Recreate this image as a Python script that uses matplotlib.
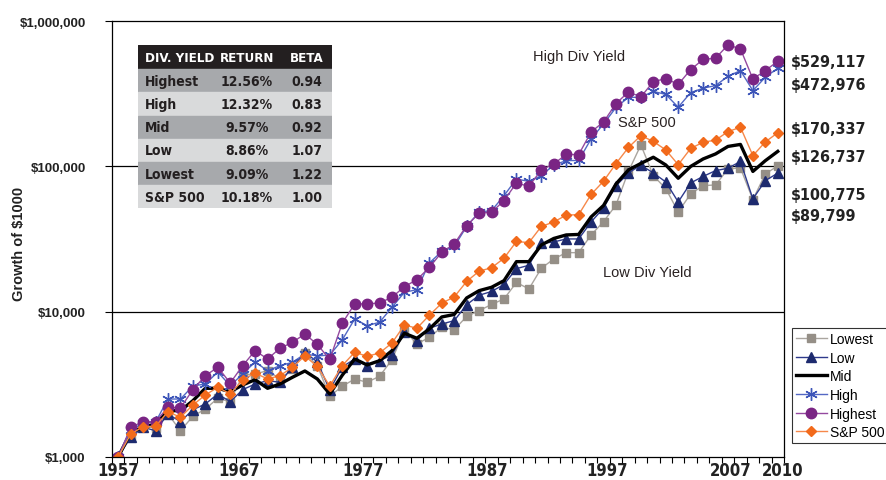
import numpy as np
import matplotlib
matplotlib.use("Agg")
import matplotlib.pyplot as plt
from matplotlib import font_manager
from matplotlib.patches import Rectangle

plt.rcParams['font.family'] = ['Liberation Sans', 'DejaVu Sans']

# look for a narrow / condensed bold face; fall back to Liberation Sans bold
def narrow_font():
    best = None
    for f in font_manager.fontManager.ttflist:
        nm = f.name.lower()
        fn = f.fname.lower()
        cond = (str(f.stretch) in ('condensed', 'semi-condensed', 'extra-condensed', 'ultra-condensed')
                or 'condensed' in fn or 'narrow' in fn)
        w = f.weight if isinstance(f.weight, int) else (700 if 'bold' in str(f.weight) else 400)
        if cond and w >= 600 and 'oblique' not in fn and 'italic' not in fn:
            if best is None or 'liberation' in nm:
                best = f.fname
    return best

NARROW_PATH = narrow_font()


def nf(size):
    if NARROW_PATH:
        return dict(fontproperties=font_manager.FontProperties(fname=NARROW_PATH, size=size))
    return dict(fontproperties=font_manager.FontProperties(family='Liberation Sans',
                                                           weight='bold', size=size * 0.85))

"""
    Data (growth of $1000, read off the picture)
"""
years = list(range(1957, 2011))

lowest = [1000, 1402, 1642, 1576, 1976, 1517, 1906, 2139, 2535, 2401,
          3667, 3726, 3926, 3442, 4033, 5196, 4250, 2617, 3066, 3442,
          3268, 3593, 4673, 7400, 5993, 6665, 7810, 7518, 9268, 10160,
          11210, 12230, 15890, 14330, 19900, 23050, 25470, 25470, 33730, 41630,
          54240, 92240, 140400, 86300, 70230, 48560, 64570, 73650, 74470, 95960,
          97500, 58990, 88660, 100775]
low = [1000, 1366, 1601, 1517, 1976, 1750, 2116, 2316, 2714, 2401,
       2906, 3180, 3351, 3268, 4143, 5254, 4506, 2892, 4164, 4726,
       4250, 4600, 5035, 7215, 6315, 7686, 8229, 8673, 11160, 12970,
       13770, 15390, 19770, 20860, 29470, 30180, 31650, 31650, 41420, 51720,
       73300, 90080, 101800, 90080, 78090, 56890, 76870, 85210, 93420, 97030,
       108100, 59650, 79720, 89799]
mid = [1000, 1479, 1601, 1687, 2083, 2083, 2440, 2970, 2970, 2814,
       3130, 3404, 2970, 3180, 3536, 3907, 3442, 2714, 3650, 4726,
       4297, 4600, 5391, 7101, 6560, 7602, 9195, 9566, 12430, 13950,
       14720, 16350, 22090, 22090, 28770, 31900, 33730, 33990, 44860, 53810,
       75660, 94460, 104700, 115500, 102200, 82800, 99840, 112400, 121700, 137100,
       141500, 92240, 109400, 126737]
high = [1000, 1534, 1714, 1741, 2506, 2506, 3081, 3180, 3846, 3095,
        3726, 4506, 3926, 4250, 4485, 5116, 4956, 5035, 6387, 8907,
        8012, 8456, 10720, 13600, 14170, 21640, 25960, 28100, 38590, 48560,
        49560, 62850, 81890, 78710, 86300, 102200, 109400, 109800, 154400, 195800,
        254300, 298100, 299000, 327700, 312500, 255100, 321600, 344800, 359300, 416900,
        455700, 331900, 410400, 472976]
highest = [1000, 1601, 1750, 1750, 2198, 2174, 2906, 3627, 4143, 3231,
           4250, 5391, 4726, 5600, 6157, 7023, 5946, 4688, 8322, 11300,
           11300, 11480, 12570, 14860, 16610, 20150, 25630, 29240, 39070, 47570,
           48330, 58070, 76870, 72730, 94460, 103900, 120800, 120400, 172500, 202100,
           270100, 325100, 300400, 382700, 401400, 366200, 463000, 544100, 554600, 684600,
           642700, 399500, 455700, 529117]
sp500 = [1000, 1439, 1616, 1627, 2050, 1876, 2279, 2671, 3018, 2714,
         3388, 3785, 3442, 3627, 4143, 4956, 4196, 3081, 4250, 5254,
         4932, 5196, 6089, 8098, 7686, 9445, 11440, 12630, 16140, 19000,
         20050, 23310, 30420, 29850, 38590, 41420, 46150, 46520, 64080, 79080,
         104400, 134900, 162700, 148400, 129700, 102600, 132800, 146500, 151500, 173300,
         185800, 118500, 147200, 170337]

table_rows = ["Highest", "High", "Mid", "Low", "Lowest", "S&P 500"]
table_return = ["12.56%", "12.32%", "9.57%", "8.86%", "9.09%", "10.18%"]
table_beta = ["0.94", "0.83", "0.92", "1.07", "1.22", "1.00"]

tick_years = [1957, 1967, 1977, 1987, 1997, 2007, 2010]
tick_pos = [0, 9.7, 19.7, 29.6, 39.3, 49.2, 53.4]

"""
    Chart
"""
fig = plt.figure(figsize=(8.86, 4.81), dpi=100)
ax = fig.add_axes([112/886, 1-458/481, 672/886, 436/481])

x = np.arange(len(years))
series = [
    ("Lowest", lowest, dict(color='#aaa59f', marker='s', ms=6, mfc='#958f87', mec='#958f87', lw=1.0)),
    ("Low", low, dict(color='#2e3a8c', marker='^', ms=7, mfc='#1d2a6e', mec='#1d2a6e', lw=1.0)),
    ("Mid", mid, dict(color='black', lw=2.4)),
    ("High", high, dict(color='#5468c4', marker=(6, 2, 0), ms=9, mec='#3c54b8', mew=1.0, lw=1.0)),
    ("Highest", highest, dict(color='#94499f', marker='o', ms=7.5, mfc='#7a2584', mec='#7a2584', lw=1.0)),
    ("S&P 500", sp500, dict(color='#f6884a', marker='D', ms=5.5, mfc='#f26a1b', mec='#f26a1b', lw=1.0)),
]
for name, vals, style in series:
    ax.plot(x, vals, label=name, **style)

ax.set_yscale('log')
ax.set_ylim(1000, 1000000)
ax.set_xlim(-0.5, len(years) - 0.5)
ax.set_yticks([1000, 10000, 100000, 1000000])
ax.set_yticklabels(["$1,000", "$10,000", "$100,000", "$1,000,000"],
                   fontweight='bold', fontsize=9.5, color='#222222')
ax.yaxis.set_minor_locator(matplotlib.ticker.NullLocator())
ax.tick_params(axis='y', which='major', direction='out', length=5, pad=14, width=0.8)
for yv in [10000, 100000]:
    ax.axhline(yv, color='black', lw=0.9, zorder=0)

ax.set_xticks(tick_pos)
ax.set_xticklabels([str(t) for t in tick_years], color='#222222', **nf(12))
ax.set_xticks(np.arange(-0.5, len(years), 1), minor=True)
ax.tick_params(axis='x', which='major', length=0, pad=3)
ax.tick_params(axis='x', which='minor', direction='out', length=4, width=0.8)

for s in ax.spines.values():
    s.set_linewidth(0.9)

ax.set_ylabel("Growth of $1000", fontweight='bold', fontsize=10.5, color='#222222')
ax.yaxis.set_label_coords(-0.128, 0.49)

# annotations
ax.text(0.695, 0.92, "High Div Yield", transform=ax.transAxes, ha='center', va='center',
        fontsize=10.5, color='#2a2222')
ax.text(0.796, 0.768, "S&P 500", transform=ax.transAxes, ha='center', va='center',
        fontsize=10.5, color='#2a2222')
ax.text(0.796, 0.424, "Low Div Yield", transform=ax.transAxes, ha='center', va='center',
        fontsize=10.5, color='#2a2222')

# ending values at right
end_labels = [highest[-1], high[-1], sp500[-1], mid[-1], lowest[-1], low[-1]]
end_y = [0.9067, 0.8555, 0.7539, 0.6888, 0.6032, 0.5534]
for v, yy in zip(end_labels, end_y):
    ax.text(1.0104, yy, "${:,.0f}".format(v), transform=ax.transAxes, ha='left',
            va='center', color='#222222', clip_on=False, **nf(11.5))

leg = ax.legend(loc='upper left', bbox_to_anchor=(792/886, 1-329/481),
                bbox_transform=fig.transFigure, fontsize=10, frameon=True,
                fancybox=False, borderaxespad=0, borderpad=0.3, handlelength=2.2,
                handletextpad=0.2, labelspacing=0.33)
leg.get_frame().set_edgecolor('black')
leg.get_frame().set_linewidth(0.8)

"""
    Table
"""
tax = fig.add_axes([138/886, 1-209/481, 194/886, 163/481])
tax.set_xlim(0, 1)
tax.set_ylim(len(table_rows) + 1, 0)
tax.axis('off')
tax.add_patch(Rectangle((0, 0), 1, 1, color='#231f20'))
for j, lab in enumerate(["DIV. YIELD", "RETURN", "BETA"]):
    xx, ha = [(0.035, 'left'), (0.56, 'center'), (0.87, 'center')][j]
    tax.text(xx, 0.52, lab, ha=ha, va='center', color='white', **nf(9.5))
for i, (r, ret, b) in enumerate(zip(table_rows, table_return, table_beta)):
    fc = '#a7a9ac' if i % 2 == 0 else '#d9dadb'
    tax.add_patch(Rectangle((0, i + 1.03), 1, 0.97, color=fc))
    yy = i + 1.53
    tax.text(0.035, yy, r, ha='left', va='center', color='#231f20', **nf(10))
    tax.text(0.56, yy, ret, ha='center', va='center', color='#231f20', **nf(10))
    tax.text(0.87, yy, b, ha='center', va='center', color='#231f20', **nf(10))

fig.savefig("out.png", dpi=100)
